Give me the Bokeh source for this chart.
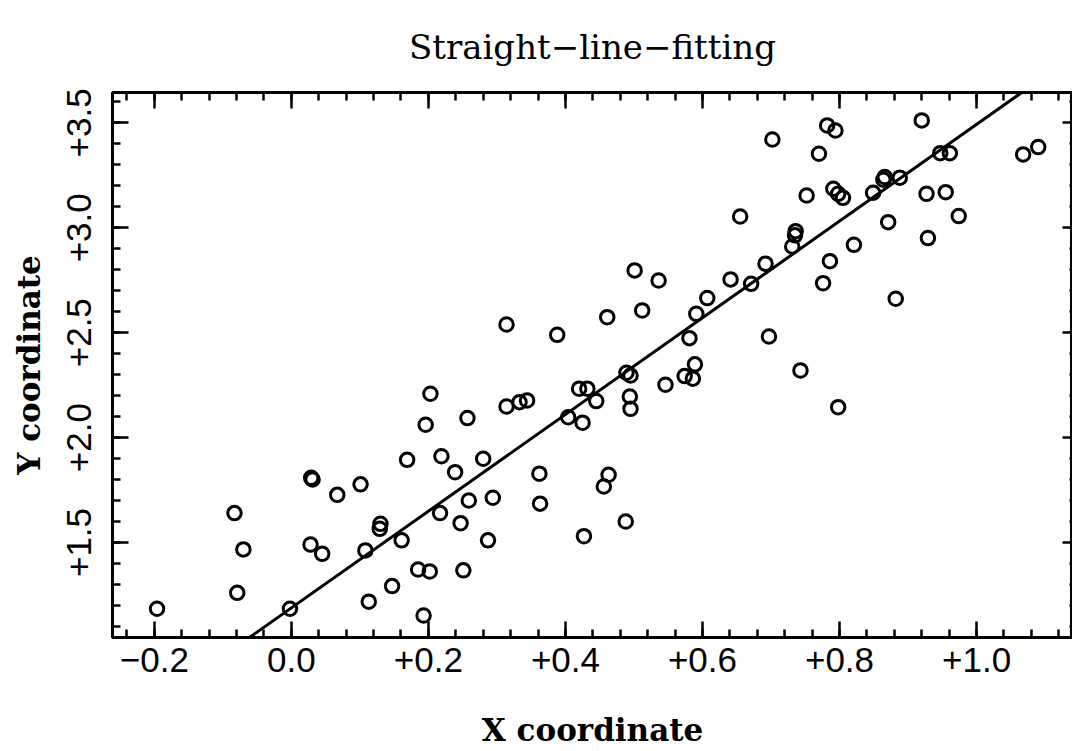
from bokeh.plotting import figure
from bokeh.models import (Range1d, LinearAxis, SingleIntervalTicker,
                          CustomJSTickFormatter, Slope)
from bokeh.embed import file_html
from bokeh.resources import INLINE

# ---- data ----
x_vals = [-0.196, -0.083, -0.070, -0.079, 0.029, 0.031, 0.028, 0.045, -0.002, 0.067,
          0.101, 0.108, 0.113, 0.203, 0.196, 0.257, 0.169, 0.219, 0.280, 0.239,
          0.314, 0.333, 0.344, 0.404, 0.420, 0.432, 0.445, 0.425, 0.489, 0.495,
          0.494, 0.495, 0.546, 0.574, 0.586, 0.589, 0.217, 0.259, 0.294, 0.247,
          0.287, 0.362, 0.363, 0.463, 0.456, 0.427, 0.488, 0.130, 0.129, 0.161,
          0.185, 0.202, 0.251, 0.147, 0.193, 0.314, 0.388, 0.461, 0.501, 0.536,
          0.512, 0.591, 0.581, 0.702, 0.782, 0.794, 0.770, 0.920, 0.947, 0.961,
          1.068, 1.090, 0.752, 0.791, 0.798, 0.805, 0.655, 0.866, 0.864, 0.888,
          0.849, 0.927, 0.955, 0.974, 0.871, 0.821, 0.929, 0.736, 0.735, 0.731,
          0.786, 0.776, 0.882, 0.692, 0.641, 0.671, 0.607, 0.697, 0.743, 0.798]
y_vals = [1.184, 1.640, 1.467, 1.260, 1.808, 1.800, 1.490, 1.446, 1.184, 1.727,
          1.777, 1.462, 1.218, 2.209, 2.061, 2.093, 1.894, 1.911, 1.899, 1.835,
          2.148, 2.169, 2.177, 2.097, 2.233, 2.233, 2.174, 2.071, 2.309, 2.296,
          2.196, 2.137, 2.252, 2.293, 2.281, 2.349, 1.640, 1.700, 1.713, 1.592,
          1.510, 1.828, 1.685, 1.823, 1.767, 1.530, 1.600, 1.589, 1.565, 1.510,
          1.371, 1.362, 1.367, 1.292, 1.152, 2.539, 2.490, 2.574, 2.797, 2.749,
          2.606, 2.590, 2.474, 3.421, 3.488, 3.464, 3.353, 3.512, 3.356, 3.356,
          3.350, 3.385, 3.154, 3.186, 3.162, 3.143, 3.054, 3.242, 3.229, 3.239,
          3.167, 3.162, 3.170, 3.056, 3.027, 2.919, 2.951, 2.984, 2.964, 2.911,
          2.841, 2.736, 2.662, 2.829, 2.754, 2.733, 2.665, 2.482, 2.320, 2.145]
fit_intercept = 1.188
fit_slope = 2.305

x_start, x_end = -0.261, 1.140
y_start, y_end = 1.047, 3.645
x_major_step = 0.2
x_minor_count = 4
y_major_step = 0.5
y_minor_count = 5

title_text = "Straight\u2212line\u2212fitting"
x_label = "X coordinate"
y_label = "Y coordinate"

# ---- figure ----
W, H = 1072, 751
BL, BT, BB = 112, 92, 114
p = figure(width=W, height=H, output_backend="svg", toolbar_location=None,
           x_range=Range1d(x_start, x_end), y_range=Range1d(y_start, y_end),
           min_border_left=BL, min_border_right=0, min_border_top=BT,
           min_border_bottom=BB, background_fill_color="white",
           border_fill_color="white")
p.grid.visible = False
p.outline_line_color = "black"
p.outline_line_width = 3

signed_fmt = CustomJSTickFormatter(code="""
    if (Math.abs(tick) < 1e-9) { return "0.0"; }
    return (tick > 0 ? "+" : "\\u2212") + Math.abs(tick).toFixed(1);
""")
blank_fmt = CustomJSTickFormatter(code="return '';")

def style_axis(ax, major_in, minor_in):
    ax.axis_line_color = "black"
    ax.axis_line_width = 3
    ax.major_tick_line_color = "black"
    ax.minor_tick_line_color = "black"
    ax.major_tick_line_width = 2.5
    ax.minor_tick_line_width = 2.5
    ax.major_tick_in = major_in
    ax.major_tick_out = 0
    ax.minor_tick_in = minor_in
    ax.minor_tick_out = 0

xticker = SingleIntervalTicker(interval=x_major_step, num_minor_ticks=x_minor_count + 1)
yticker = SingleIntervalTicker(interval=y_major_step, num_minor_ticks=y_minor_count)

xa = p.xaxis[0]
xa.ticker = xticker
xa.formatter = signed_fmt
style_axis(xa, 16, 8)
xa.major_label_text_font = "Liberation Sans"
xa.major_label_text_font_size = "35px"
xa.major_label_text_color = "black"
xa.major_label_standoff = 10
xa.axis_label = x_label
xa.axis_label_text_font = "DejaVu Serif"
xa.axis_label_text_font_style = "bold"
xa.axis_label_text_font_size = "31px"
xa.axis_label_text_color = "black"
xa.axis_label_standoff = 37

ya = p.yaxis[0]
ya.ticker = yticker
ya.formatter = signed_fmt
style_axis(ya, 16, 8)
ya.major_label_orientation = "vertical"
ya.major_label_text_font = "Liberation Sans"
ya.major_label_text_font_size = "35px"
ya.major_label_text_color = "black"
ya.major_label_standoff = 21
ya.axis_label = y_label
ya.axis_label_text_font = "DejaVu Serif"
ya.axis_label_text_font_style = "bold"
ya.axis_label_text_font_size = "31px"
ya.axis_label_text_color = "black"
ya.axis_label_standoff = 18

top = LinearAxis(ticker=SingleIntervalTicker(interval=x_major_step, num_minor_ticks=x_minor_count + 1),
                 formatter=blank_fmt, major_label_standoff=0)
style_axis(top, 16, 8)
p.add_layout(top, "above")

right = LinearAxis(ticker=SingleIntervalTicker(interval=y_major_step, num_minor_ticks=y_minor_count),
                   formatter=blank_fmt, major_label_standoff=0)
style_axis(right, 10, 3)
p.add_layout(right, "right")

p.title.text = title_text
p.title.align = "center"
p.title.vertical_align = "top"
p.title.text_font = "DejaVu Serif"
p.title.text_font_style = "normal"
p.title.text_font_size = "34px"
p.title.text_color = "black"
p.title.standoff = 48

p.add_layout(Slope(gradient=fit_slope, y_intercept=fit_intercept,
                   line_color="black", line_width=3))

p.scatter(x_vals, y_vals, marker="circle", size=13.5, fill_color=None,
          line_color="black", line_width=3)

open("out.html", "w").write(file_html(p, INLINE))
